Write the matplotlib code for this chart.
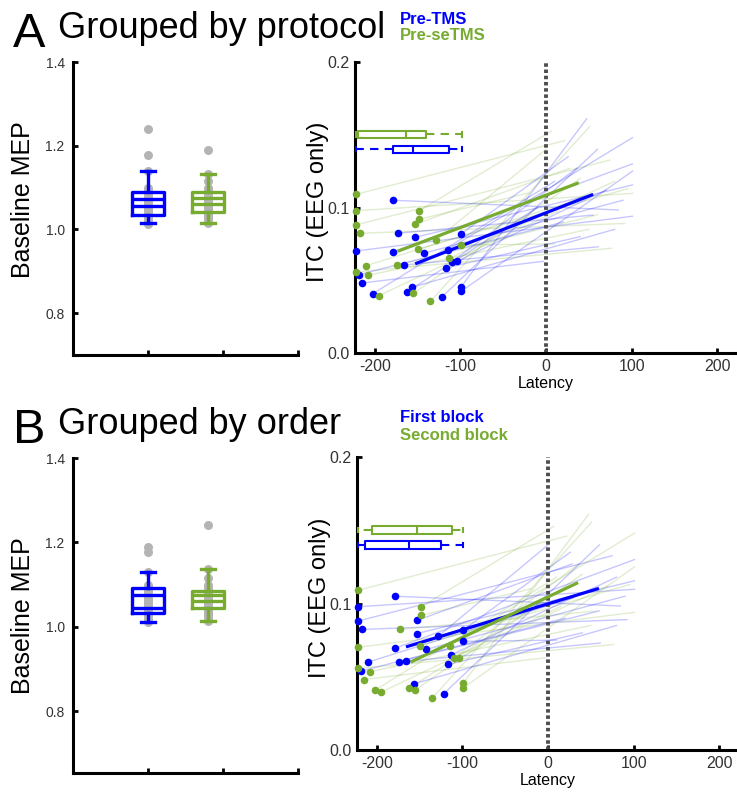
import matplotlib.pyplot as plt

plt.rcParams['font.family'] = ['Liberation Sans', 'DejaVu Sans']

BLUE = '#0000FF'
GREEN = '#77AC30'
GRAY = '#B4B4B4'
AXIS_GRAY = '#333333'

# ---- per-session ITC data (38 sessions) ----
# onset latency (ms) and ITC of each session, and the end point of its fitted line
latency = [-222, -222, -222, -217, -222, -210, -208, -195, -148, -148,
           -153, -150, -128, -173.5, -155, -135, -113, -99.6,
           -179, -222, -173, -153, -98.8, -179, -142, -115, -165.7, -109.7,
           -104, -117, -218.6, -215, -202, -157, -162, -122, -99, -99]
itc = [0.109, 0.0978, 0.088, 0.0823, 0.0557, 0.060, 0.0534, 0.0394, 0.0978, 0.0919,
       0.0884, 0.0713, 0.0777, 0.0603, 0.041, 0.0355, 0.065, 0.0742,
       0.105, 0.0701, 0.0823, 0.0795, 0.082, 0.0694, 0.0687, 0.071, 0.0605, 0.0628,
       0.063, 0.0584, 0.0538, 0.0481, 0.0408, 0.0451, 0.0421, 0.0382, 0.0456, 0.0424]
end_latency = [22, 101, 74.7, 92, 76.6, 30, 50, 15, 6.6, -20,
               28, 95.7, 0, 60, 40, 51, 80, 10,
               84.4, 101, 55, 101, 26, 101, 90, 101, 61, 35.8,
               70, 40, 20, -3, 10, 80, -10, 60, 47.5, 101]
end_itc = [0.146, 0.1097, 0.1326, 0.089, 0.072, 0.104, 0.085, 0.098, 0.1526, 0.110,
           0.127, 0.113, 0.140, 0.095, 0.120, 0.1556, 0.118, 0.075,
           0.0983, 0.094, 0.0948, 0.1155, 0.135, 0.130, 0.105, 0.148, 0.073, 0.127,
           0.112, 0.080, 0.090, 0.063, 0.118, 0.085, 0.100, 0.140, 0.161, 0.125]
# 0 = Pre-TMS, 1 = Pre-seTMS
protocol = [1] * 18 + [0] * 20
# 0 = first block, 1 = second block
block = [1, 0, 0, 0, 1, 0, 1, 1, 1, 1, 0, 1, 0, 0, 1, 1, 0, 0,
         0, 1, 1, 0, 0, 0, 0, 1, 0, 1, 1, 0, 0, 1, 1, 0, 1, 0, 1, 1]

# ---- group regression lines (latency range, ITC at both ends) ----
fit_pre_tms_lat = [-151, 53.3]
fit_pre_tms_itc = [0.0617, 0.1086]
fit_pre_setms_lat = [-171.5, 36.5]
fit_pre_setms_itc = [0.0703, 0.1166]
fit_first_lat = [-164, 57.7]
fit_first_itc = [0.0707, 0.110]
fit_second_lat = [-158.7, 33.5]
fit_second_itc = [0.0605, 0.1138]

# ---- latency summaries: whislo, q1, median, q3, whishi ----
lat_box_pre_tms = [-222, -179, -155.6, -112.8, -98.4]
lat_box_pre_setms = [-222, -220, -163.7, -140.4, -98.4]
lat_box_first = [-222, -214, -162, -125.5, -99]
lat_box_second = [-222, -206, -153, -112.6, -99]
lat_box_rows = [0.140, 0.1502]   # ITC height at which each summary is drawn

# ---- baseline MEP values ----
mep_pre_tms = [1.241, 1.177, 1.139, 1.100, 1.092, 1.085, 1.078, 1.072, 1.066, 1.060,
               1.055, 1.050, 1.045, 1.040, 1.035, 1.030, 1.025, 1.018, 1.013]
mep_pre_setms = [1.190, 1.132, 1.115, 1.100, 1.092, 1.085, 1.078, 1.072, 1.066, 1.060,
                 1.055, 1.050, 1.045, 1.040, 1.035, 1.030, 1.025, 1.018, 1.015]
mep_first = [1.190, 1.178, 1.130, 1.100, 1.092, 1.085, 1.078, 1.072, 1.066, 1.060,
             1.055, 1.050, 1.045, 1.040, 1.035, 1.030, 1.025, 1.018, 1.010]
mep_second = [1.240, 1.137, 1.115, 1.100, 1.092, 1.085, 1.078, 1.072, 1.066, 1.060,
              1.055, 1.050, 1.045, 1.040, 1.035, 1.030, 1.025, 1.018, 1.013]
# whislo, q1, median, mean, q3, whishi
mep_box_pre_tms = [1.016, 1.035, 1.057, 1.073, 1.089, 1.139]
mep_box_pre_setms = [1.015, 1.042, 1.060, 1.075, 1.090, 1.132]
mep_box_first = [1.010, 1.033, 1.045, 1.075, 1.091, 1.130]
mep_box_second = [1.013, 1.045, 1.062, 1.075, 1.085, 1.137]
mep_positions = [1, 1.8]


def style_axes(ax):
    for side in ('top', 'right'):
        ax.spines[side].set_visible(False)
    for side in ('left', 'bottom'):
        ax.spines[side].set_linewidth(2.2)


def draw_mep(ax, values, boxes, ymin, label_y):
    style_axes(ax)
    colors = [BLUE, GREEN]
    for pos, vals in zip(mep_positions, values):
        ax.scatter([pos] * len(vals), vals, s=42, color=GRAY, zorder=1,
                   linewidths=0)
    for pos, b, c in zip(mep_positions, boxes, colors):
        stats = [dict(whislo=b[0], q1=b[1], med=b[2], mean=b[3], q3=b[4],
                      whishi=b[5], fliers=[])]
        lp = dict(color=c, linewidth=2.4, linestyle='-')
        ax.bxp(stats, positions=[pos], widths=0.42, capwidths=0.19,
               showmeans=True, meanline=True, manage_ticks=False,
               boxprops=lp, whiskerprops=lp, capprops=lp, medianprops=lp,
               meanprops=lp, zorder=3)
    ax.set_xlim(0, 3)
    ax.set_ylim(ymin, 1.4)
    ax.set_xticks([1, 2, 3])
    ax.set_xticklabels([])
    ax.set_yticks([0.8, 1.0, 1.2, 1.4])
    ax.set_yticklabels(['0.8', '1.0', '1.2', '1.4'])
    ax.tick_params(direction='in', length=3.5, width=2, labelsize=10,
                   labelcolor=AXIS_GRAY, pad=6)
    ax.set_ylabel('Baseline MEP', fontsize=18)
    ax.yaxis.set_label_coords(-0.17, label_y)


def draw_itc(ax, groups, fits, lat_boxes):
    style_axes(ax)
    colors = [BLUE, GREEN]
    # individual session fits
    for lat, y, lat2, y2, g in zip(latency, itc, end_latency, end_itc, groups):
        ax.plot([lat, lat2], [y, y2], color=colors[g], alpha=0.22, lw=1.0,
                zorder=1)
    ax.axvline(0, color='#4D4D4D', lw=2.8, linestyle=(0, (0.9, 0.7)),
               zorder=2)
    # group fits
    for (flat, fitc), c in zip(fits, colors):
        ax.plot(flat, fitc, color=c, lw=2.3, zorder=3)
    # session onsets
    for g, c in enumerate(colors):
        xs = [lat for lat, gg in zip(latency, groups) if gg == g]
        ys = [y for y, gg in zip(itc, groups) if gg == g]
        ax.scatter(xs, ys, s=30, color=c, zorder=4, linewidths=0,
                   clip_on=False)
    # latency summaries
    for b, row, c in zip(lat_boxes, lat_box_rows, colors):
        stats = [dict(whislo=b[0], q1=b[1], med=b[2], q3=b[3], whishi=b[4],
                      fliers=[])]
        lp = dict(color=c, linewidth=1.5, linestyle='-')
        wp = dict(color=c, linewidth=1.5, linestyle=(0, (4, 3)))
        ax.bxp(stats, positions=[row], widths=0.005, capwidths=0.003,
               orientation='horizontal', manage_ticks=False,
               boxprops=lp, whiskerprops=wp, capprops=lp, medianprops=lp,
               zorder=3)
    ax.set_xlim(-223, 223)
    ax.set_ylim(0, 0.2)
    ax.set_xticks([-200, -100, 0, 100, 200])
    ax.set_xticklabels(['-200', '-100', '0', '100', '200'])
    ax.set_yticks([0, 0.1, 0.2])
    ax.set_yticklabels(['0.0', '0.1', '0.2'])
    ax.tick_params(direction='in', length=3.5, width=2, labelsize=11.5,
                   labelcolor=AXIS_GRAY, pad=4)
    ax.set_xlabel('Latency', fontsize=11.5, labelpad=2)
    ax.set_ylabel('ITC (EEG only)', fontsize=17)
    ax.yaxis.set_label_coords(-0.068, 0.52)


W, H = 737, 801
fig = plt.figure(figsize=(W / 100, H / 100), dpi=100)


def rect(x0, y0, x1, y1):
    return [x0 / W, 1 - y1 / H, (x1 - x0) / W, (y1 - y0) / H]


ax_a1 = fig.add_axes(rect(73, 62, 298, 355))
ax_a2 = fig.add_axes(rect(355, 62, 737, 353))
ax_b1 = fig.add_axes(rect(73, 458, 298, 773))
ax_b2 = fig.add_axes(rect(357, 457, 739, 750))

draw_mep(ax_a1, [mep_pre_tms, mep_pre_setms], [mep_box_pre_tms, mep_box_pre_setms],
         0.7, 0.53)
draw_itc(ax_a2, protocol,
         [(fit_pre_tms_lat, fit_pre_tms_itc), (fit_pre_setms_lat, fit_pre_setms_itc)],
         [lat_box_pre_tms, lat_box_pre_setms])
draw_mep(ax_b1, [mep_first, mep_second], [mep_box_first, mep_box_second],
         0.653, 0.5)
draw_itc(ax_b2, block,
         [(fit_first_lat, fit_first_itc), (fit_second_lat, fit_second_itc)],
         [lat_box_first, lat_box_second])


# panel titles and group keys
def fig_text(x, y, s, **kw):
    fig.text(x / W, 1 - y / H, s, **kw)


fig_text(13, 47, 'A', fontsize=35, va='baseline')
fig_text(58, 38, 'Grouped by protocol', fontsize=26, va='baseline')
fig_text(400, 19, 'Pre-TMS', fontsize=12, fontweight='bold', color=BLUE, va='center')
fig_text(400, 36, 'Pre-seTMS', fontsize=12, fontweight='bold', color=GREEN, va='center')

fig_text(13, 443, 'B', fontsize=35, va='baseline')
fig_text(58, 434, 'Grouped by order', fontsize=26, va='baseline')
fig_text(400, 417, 'First block', fontsize=12, fontweight='bold', color=BLUE, va='center')
fig_text(400, 436, 'Second block', fontsize=12, fontweight='bold', color=GREEN, va='center')

fig.savefig('out.png', dpi=100)
